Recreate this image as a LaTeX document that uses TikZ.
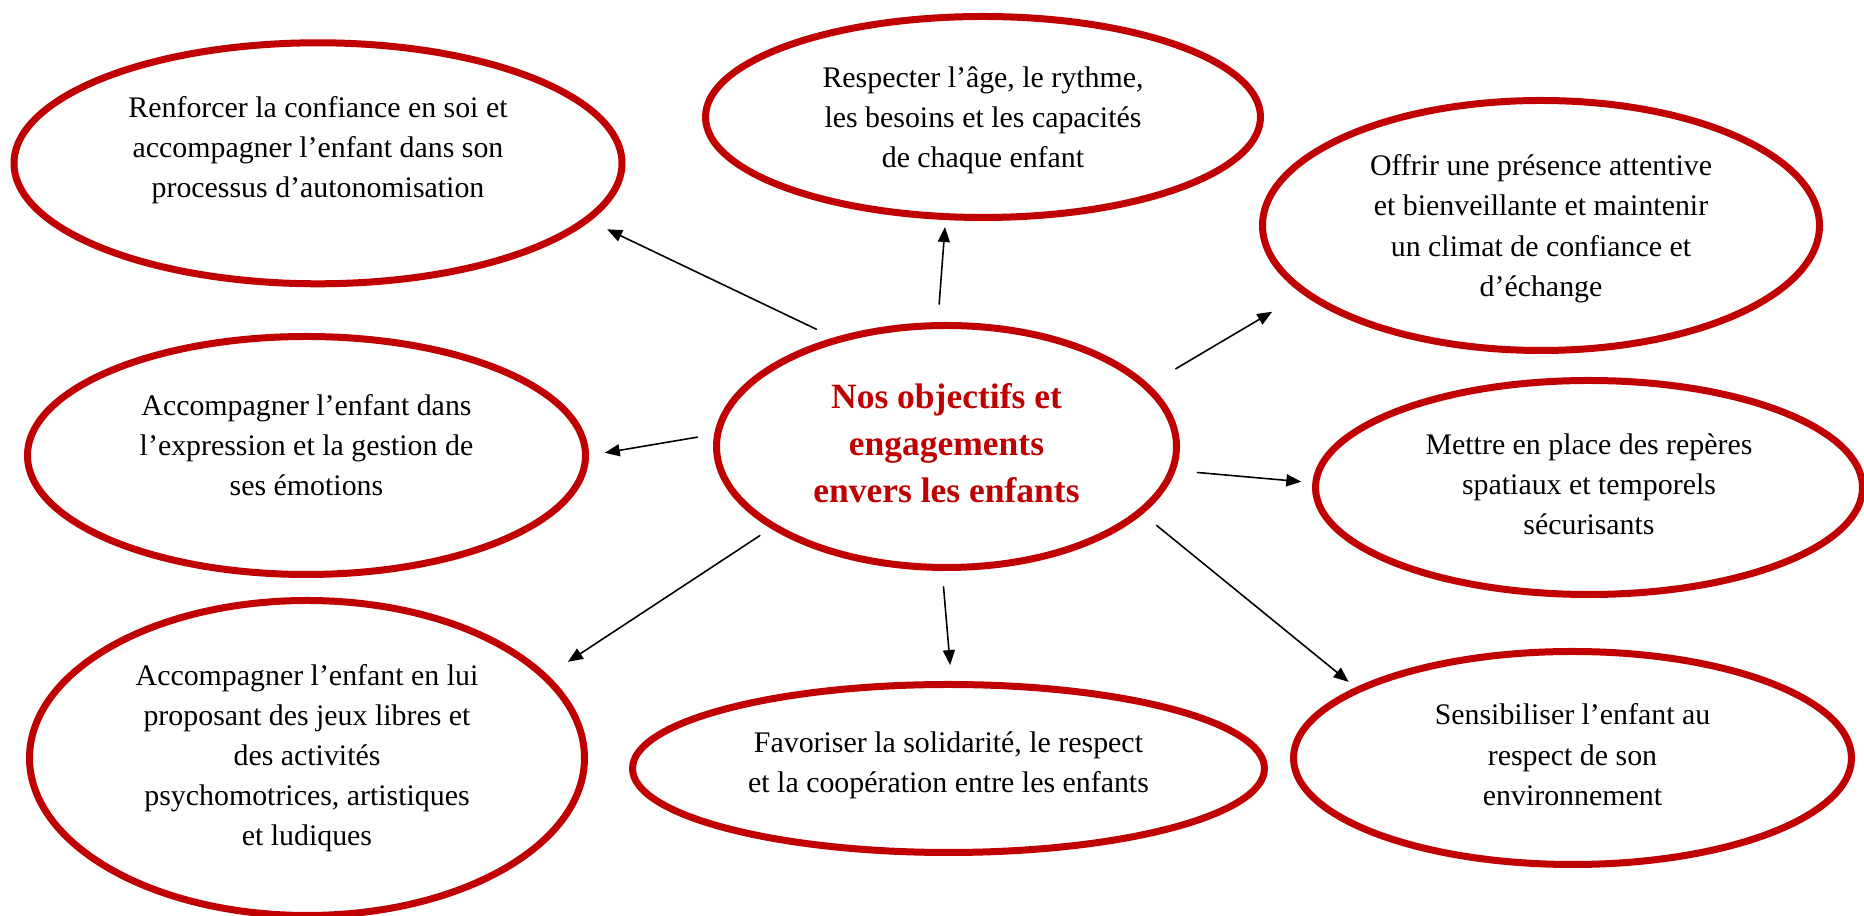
\documentclass[tikz,border=0pt]{standalone}
\usepackage{fontspec}
\setmainfont{Liberation Serif}
\usetikzlibrary{shapes.geometric,arrows.meta}
\definecolor{rouge}{HTML}{C00000}
\begin{document}
\begin{tikzpicture}[line join=round, line cap=round, >={Triangle[length=0.15cm,width=0.12cm]}]
			\tikzset{bulle/.style={ellipse, draw=rouge, line width=0.07cm, inner sep=0pt, align=center, font=\fontsize{8.5}{11.4}\selectfont}}
			\tikzset{coeur/.style={bulle, text=rouge, font=\fontsize{10.1}{13.4}\selectfont\bfseries}}
			\useasboundingbox (0,0) rectangle (18.64,-9.16);
			\node[coeur, minimum width=4.60cm, minimum height=2.42cm, text depth=0.07cm] (objectifs) at (9.465,-4.465) {Nos objectifs et\\engagements\\envers les enfants};
			\node[bulle, minimum width=6.08cm, minimum height=2.41cm, text depth=0.33cm] (confiance) at (3.18,-1.633) {Renforcer la confiance en soi et\\accompagner l’enfant dans son\\processus d’autonomisation};
			\node[bulle, minimum width=5.55cm, minimum height=2.01cm, text depth=0cm] (rythme) at (9.83,-1.17) {Respecter l’âge, le rythme,\\les besoins et les capacités\\de chaque enfant};
			\node[bulle, minimum width=5.57cm, minimum height=2.50cm, text depth=0cm] (presence) at (15.41,-2.255) {Offrir une présence attentive\\et bienveillante et maintenir\\un climat de confiance et\\d’échange};
			\node[bulle, minimum width=5.58cm, minimum height=2.38cm, text depth=0.21cm] (emotions) at (3.065,-4.555) {Accompagner l’enfant dans\\l’expression et la gestion de\\ses émotions};
			\node[bulle, minimum width=5.47cm, minimum height=2.14cm, text depth=0.07cm] (reperes) at (15.89,-4.875) {Mettre en place des repères\\spatiaux et temporels\\sécurisants};
			\node[bulle, minimum width=5.55cm, minimum height=3.15cm] (jeux) at (3.07,-7.58) {Accompagner l’enfant en lui\\proposant des jeux libres et\\des activités\\psychomotrices, artistiques\\et ludiques};
			\node[bulle, minimum width=6.32cm, minimum height=1.68cm, text depth=0.135cm] (solidarite) at (9.485,-7.685) {Favoriser la solidarité, le respect\\et la coopération entre les enfants};
			\node[bulle, minimum width=5.58cm, minimum height=2.13cm, text depth=0.07cm] (environnement) at (15.725,-7.58) {Sensibiliser l’enfant au\\respect de son\\environnement};
			\foreach \a/\b/\c/\s/\t in {136.8/confiance/348.7/0.19cm/0.19cm, 94.6/rythme/250/0.18cm/0.07cm, 17.5/presence/196.6/0.31cm/0.35cm, 177.8/emotions/0.7/0.17cm/0.16cm, 354.4/reperes/179.5/0.22cm/0.11cm, 205.5/jeux/19.6/0.13cm/0.24cm, 268.6/solidarite/88.6/0.16cm/0.16cm, 341/environnement/162.8/0.18cm/0.09cm}
				\draw[->, line width=0.45pt, shorten <=\s, shorten >=\t] (objectifs.\a) -- (\b.\c);
		\end{tikzpicture}
\end{document}
